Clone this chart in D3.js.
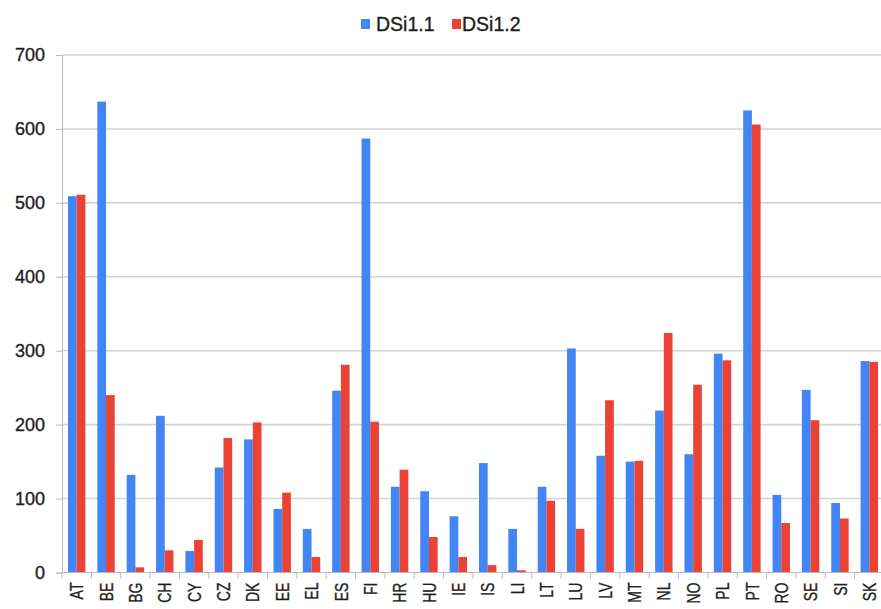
<!DOCTYPE html>
<html>
<head>
<meta charset="utf-8">
<script src="https://cdn.jsdelivr.net/npm/d3@7"></script>
<style>
  body { margin: 0; background: #fff; }
  text { font-family: "Liberation Sans", Arial, sans-serif; fill: #1e1e1e; stroke: #1e1e1e; stroke-width: 0.35px; }
</style>
</head>
<body>
<div id="chart"></div>
<script>
// data
var countries = ["AT","BE","BG","CH","CY","CZ","DK","EE","EL","ES","FI","HR","HU","IE",
                 "IS","LI","LT","LU","LV","MT","NL","NO","PL","PT","RO","SE","SI","SK"];
var dsi11 = [509, 637, 132, 212, 29, 142, 180, 86, 59, 246, 587, 116, 110, 76,
             148, 59, 116, 303, 158, 150, 219, 160, 296, 625, 105, 247, 94, 286];
var dsi12 = [511, 240, 7, 30, 44, 182, 203, 108, 21, 281, 204, 139, 48, 21,
             10, 3, 97, 59, 233, 151, 324, 254, 287, 606, 67, 206, 73, 285];
var seriesNames = ["DSi1.1", "DSi1.2"];
var colors = ["#4285f4", "#ea4335"];
var yTicks = [0, 100, 200, 300, 400, 500, 600, 700];

var margin = {top: 55, right: -3, bottom: 36.5, left: 62},
    W = 881, H = 609,
    width = W - margin.left - margin.right,
    height = H - margin.top - margin.bottom;

var svg = d3.select("#chart").append("svg")
    .attr("width", W)
    .attr("height", H);

var g = svg.append("g")
    .attr("transform", "translate(" + margin.left + "," + margin.top + ")");

var x = d3.scaleBand().domain(countries).range([0, width]);
var bw = x.bandwidth();
var x1 = d3.scaleBand().domain(seriesNames).range([bw / 2 - 8.7, bw / 2 + 8.7]);
var y = d3.scaleLinear().domain([0, 700]).range([height, 0]);

// gridlines
g.selectAll(".grid").data(yTicks.filter(function(d) { return d > 0; }))
  .enter().append("line")
    .attr("x1", 0).attr("x2", width)
    .attr("y1", function(d) { return y(d); })
    .attr("y2", function(d) { return y(d); })
    .attr("stroke", "#d4d4d4")
    .attr("stroke-width", 1.6);

// bars
var rows = countries.map(function(c, i) { return {c: c, v: [dsi11[i], dsi12[i]]}; });
var grp = g.selectAll(".grp").data(rows).enter().append("g")
    .attr("transform", function(d) { return "translate(" + x(d.c) + ",0)"; });
grp.selectAll("rect")
  .data(function(d) { return d.v.map(function(v, k) { return {k: k, v: v}; }); })
  .enter().append("rect")
    .attr("x", function(d) { return x1(seriesNames[d.k]); })
    .attr("width", x1.bandwidth())
    .attr("y", function(d) { return y(d.v); })
    .attr("height", function(d) { return height - y(d.v); })
    .attr("fill", function(d) { return colors[d.k]; });

// y axis
var yAxis = g.append("g")
    .call(d3.axisLeft(y).tickValues(yTicks).tickSize(6).tickPadding(11));
yAxis.select(".domain").attr("stroke", "#bbb");
yAxis.selectAll(".tick line").attr("stroke", "#bbb");
yAxis.selectAll(".tick text")
    .style("font-size", "18px")
    .attr("fill", "#1e1e1e");

// x axis: ticks between the categories
var xAxis = g.append("g").attr("transform", "translate(0," + height + ")");
xAxis.append("line").attr("x1", 0).attr("x2", width)
    .attr("stroke", "#bbb");
xAxis.selectAll(".xt").data(d3.range(countries.length + 1))
  .enter().append("line")
    .attr("x1", function(i) { return i * bw; })
    .attr("x2", function(i) { return i * bw; })
    .attr("y1", 0).attr("y2", 6)
    .attr("stroke", "#bbb");
xAxis.selectAll(".xl").data(countries)
  .enter().append("text")
    .attr("transform", function(d) {
      return "translate(" + (x(d) + bw / 2) + ",10) rotate(-90) scale(0.74,1)";
    })
    .attr("dy", "0.35em")
    .attr("text-anchor", "end")
    .style("font-size", "19px")
    .text(function(d) { return d; });

// legend
var legendX = [361, 452];
var leg = svg.selectAll(".leg").data(seriesNames).enter().append("g")
    .attr("transform", function(d, i) { return "translate(" + legendX[i] + ",19)"; });
leg.append("rect").attr("width", 9).attr("height", 10)
    .attr("fill", function(d, i) { return colors[i]; });
leg.append("text")
    .attr("x", function(d, i) { return i === 0 ? 15 : 10; })
    .attr("y", 12)
    .style("font-size", "19.5px")
    .text(function(d) { return d; });
</script>
</body>
</html>
